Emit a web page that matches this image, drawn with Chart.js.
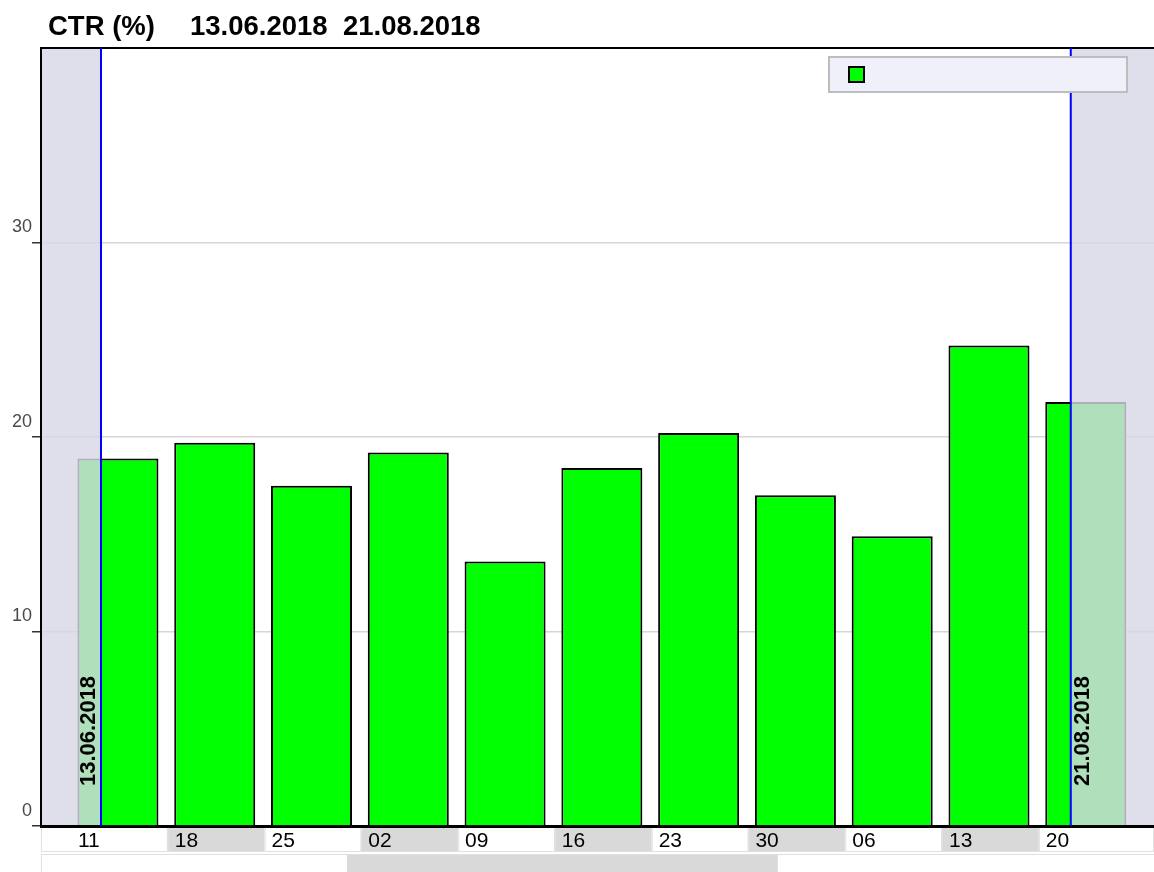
<!DOCTYPE html>
<html><head><meta charset="utf-8">
<script src="https://cdn.jsdelivr.net/npm/chart.js@4.4.0/dist/chart.umd.min.js"></script>
<style>html,body{margin:0;padding:0;background:#fff;overflow:hidden}#wrap{width:1154px;height:872px;position:relative}</style>
</head><body><div id="wrap"><canvas id="c" width="1154" height="872"></canvas></div>
<script>
// ---- data ----
const weekLabels = ['11','18','25','02','09','16','23','30','06','13','20'];
const ctrValues = [18.9, 19.7, 17.5, 19.2, 13.6, 18.4, 20.2, 17.0, 14.9, 24.7, 21.8];
const yTickValues = [0, 10, 20, 30, 40];
const titleText = 'CTR (%)';
const periodStart = '13.06.2018';
const periodEnd = '21.08.2018';
// period borders expressed in week-index units (week 0 = 11.06)
const periodStartPos = -0.175;
const periodEndPos = 9.845;

const FONT = '"Liberation Sans", Arial, Helvetica, sans-serif';

const decorPlugin = {
  id: 'decor',
  beforeDraw(chart) {
    const {ctx, chartArea: ca, scales: {x}} = chart;
    ctx.save();
    ctx.fillStyle = '#fff';
    ctx.fillRect(0, 0, chart.width, chart.height);
    // week cells under the x axis
    const top = ca.bottom, h = 26;
    for (let i = 0; i < weekLabels.length; i++) {
      const l = i === 0 ? ca.left : x.getPixelForValue(i - 0.5) + 1.5;
      const r = i === weekLabels.length - 1 ? ca.right : x.getPixelForValue(i + 0.5) + 1.5;
      ctx.fillStyle = i % 2 ? '#d9d9d9' : '#ffffff';
      ctx.fillRect(l, top, r - l, h);
      ctx.strokeStyle = '#e0e0e0';
      ctx.lineWidth = 1;
      ctx.strokeRect(l + 0.5, top + 0.5, r - l - 1, h - 1);
    }
    // navigator strip
    const sy = ca.bottom + 28;
    const w = ca.right - ca.left;
    ctx.fillStyle = '#ffffff';
    ctx.fillRect(ca.left, sy, w, chart.height - sy);
    ctx.fillStyle = '#d9d9d9';
    ctx.fillRect(ca.left + w * 0.275, sy, w * 0.387, chart.height - sy);
    ctx.strokeStyle = '#e0e0e0';
    ctx.strokeRect(ca.left + 0.5, sy + 0.5, w, chart.height - sy + 2);
    ctx.restore();
  },
  afterDatasetsDraw(chart) {
    const {ctx, chartArea: ca, scales: {x}} = chart;
    const p0 = x.getPixelForValue(periodStartPos);
    const p1 = x.getPixelForValue(periodEndPos);
    ctx.save();
    ctx.fillStyle = 'rgba(215,215,230,0.81)';
    ctx.fillRect(ca.left + 1, ca.top + 1, p0 - ca.left - 1, ca.bottom - ca.top - 2);
    ctx.fillRect(p1, ca.top + 1, ca.right - p1, ca.bottom - ca.top - 2);
    ctx.strokeStyle = '#0000ff';
    ctx.lineWidth = 2;
    ctx.beginPath();
    ctx.moveTo(p0, ca.top); ctx.lineTo(p0, ca.bottom);
    ctx.moveTo(p1, ca.top); ctx.lineTo(p1, ca.bottom);
    ctx.stroke();
    // vertical period labels
    ctx.fillStyle = '#000';
    ctx.font = 'bold 22px ' + FONT;
    ctx.textBaseline = 'middle';
    ctx.textAlign = 'left';
    ctx.save();
    ctx.translate(p0 - 12, ca.bottom - 40);
    ctx.rotate(-Math.PI / 2);
    ctx.fillText(periodStart, 0, 0);
    ctx.restore();
    ctx.save();
    ctx.translate(p1 + 12, ca.bottom - 40);
    ctx.rotate(-Math.PI / 2);
    ctx.fillText(periodEnd, 0, 0);
    ctx.restore();
    // legend box
    ctx.fillStyle = '#f0f0fa';
    ctx.fillRect(829, 57, 298, 35);
    ctx.strokeStyle = '#bdbdbd';
    ctx.lineWidth = 2;
    ctx.strokeRect(829, 57, 298, 35);
    ctx.fillStyle = '#00ff00';
    ctx.fillRect(848, 66, 17, 17);
    ctx.strokeStyle = '#000';
    ctx.lineWidth = 2;
    ctx.strokeRect(849, 67, 15, 15);
    ctx.restore();
  },
  afterDraw(chart) {
    const {ctx} = chart;
    ctx.save();
    ctx.fillStyle = '#000';
    ctx.font = 'bold 27.5px ' + FONT;
    ctx.textBaseline = 'alphabetic';
    ctx.textAlign = 'left';
    ctx.fillText(titleText, 48, 35);
    ctx.fillText(periodStart, 190, 35);
    ctx.fillText(periodEnd, 343, 35);
    ctx.restore();
  }
};

new Chart(document.getElementById('c'), {
  type: 'bar',
  data: {
    datasets: [{
      label: '',
      data: ctrValues.map((v, i) => ({x: i, y: v})),
      backgroundColor: '#00ff00',
      borderColor: '#000000',
      borderWidth: 2,
      barPercentage: 0.837,
      categoryPercentage: 1
    }]
  },
  options: {
    responsive: false,
    animation: false,
    layout: {padding: {top: 48, left: 0, right: 0, bottom: 0}},
    plugins: {legend: {display: false}, title: {display: false}, tooltip: {enabled: false}},
    scales: {
      x: {
        type: 'linear',
        offset: false,
        min: -0.795,
        max: 10.705,
        grid: {display: false, drawTicks: false, offset: false},
        border: {display: true, color: '#000', width: 3},
        afterBuildTicks: (s) => { s.ticks = weekLabels.map((_, i) => ({value: i})); },
        afterFit: (s) => { s.height = 46; s.paddingLeft = 0; s.paddingRight = 0; },
        ticks: {
          autoSkip: false,
          maxRotation: 0,
          align: 'start',
          labelOffset: -40,
          padding: 3,
          color: '#000',
          font: {family: FONT, size: 21},
          callback: (v, i) => weekLabels[i]
        }
      },
      y: {
        min: 0,
        max: 40,
        afterBuildTicks: (s) => { s.ticks = yTickValues.map(v => ({value: v})); },
        afterFit: (s) => { s.width = 41; s.paddingTop = 0; s.paddingBottom = 0; },
        grid: {
          color: (c) => c.tick && c.tick.value === 40 ? '#000' : '#d6d6d6',
          lineWidth: (c) => c.tick && c.tick.value === 40 ? 2 : 1.5,
          tickColor: (c) => c.tick && c.tick.value === 40 ? 'rgba(0,0,0,0)' : '#333',
          tickLength: 9,
          drawTicks: true
        },
        border: {display: true, color: '#000', width: 2},
        ticks: {
          padding: 0,
          labelOffset: -15,
          color: '#4a4a4a',
          font: {family: FONT, size: 18},
          callback: (v) => v === 40 ? '' : String(v)
        }
      }
    }
  },
  plugins: [decorPlugin]
});
</script>
</body></html>
